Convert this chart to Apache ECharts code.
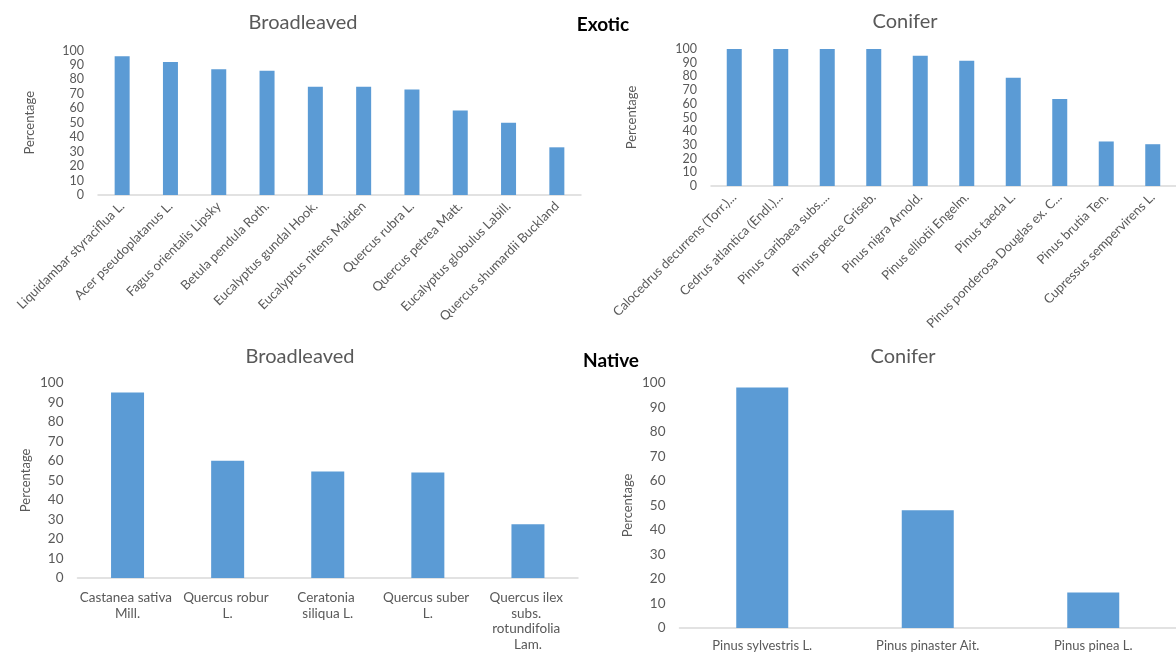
<!DOCTYPE html>
<html>
<head>
<meta charset="utf-8">
<script src="https://cdn.jsdelivr.net/npm/echarts@6/dist/echarts.min.js"></script>
<style>html,body{margin:0;padding:0;background:#fff}#c{width:1176px;height:652px}</style>
</head>
<body>
<div id="c"></div>
<script>
// Exotic - Broadleaved
const exoticBroadCats = ["Liquidambar styraciflua L.", "Acer pseudoplatanus L.", "Fagus orientalis Lipsky", "Betula pendula Roth.", "Eucalyptus gundal Hook.", "Eucalyptus nitens Maiden", "Quercus rubra L.", "Quercus petrea Matt.", "Eucalyptus globulus Labill.", "Quercus shumardii Buckland"];
const exoticBroadVals = [96, 92, 87, 86, 75, 75, 73, 58.5, 50, 33];
// Exotic - Conifer
const exoticConCats = ["Calocedrus decurrens (Torr.)...", "Cedrus atlantica (Endl.)...", "Pinus caribaea subs....", "Pinus peuce Griseb.", "Pinus nigra Arnold.", "Pinus elliotii Engelm.", "Pinus taeda L.", "Pinus ponderosa Douglas ex. C...", "Pinus brutia Ten.", "Cupressus sempervirens L."];
const exoticConVals = [100, 100, 100, 100, 95, 91.5, 79, 63.5, 32.5, 30.5];
// Native - Broadleaved
const nativeBroadCats = ["Castanea sativa Mill.", "Quercus robur L.", "Ceratonia siliqua L.", "Quercus suber L.", "Quercus ilex subs. rotundifolia Lam."];
const nativeBroadVals = [95, 60, 54.5, 54, 27.5];
// Native - Conifer
const nativeConCats = ["Pinus sylvestris L.", "Pinus pinaster Ait.", "Pinus pinea L."];
const nativeConVals = [98, 48, 14.5];
// Axis ticks
const yMin = 0, yMax = 100, yStep = 10;
const yName = "Percentage";

const FONT = "Lato";
const GRAY = "#595959";
const BAR = "#5b9bd5";

const grids = [
  {left: 98, top: 50.5, width: 483, height: 144.5},
  {left: 711, top: 49, width: 472, height: 137},
  {left: 77.5, top: 382.7, width: 500.5, height: 199.6},
  {left: 679.5, top: 382.7, width: 502, height: 246.3}
];
const nameGaps = [62, 73, 45, 45];
const cats = [exoticBroadCats, exoticConCats, nativeBroadCats, nativeConCats];
const vals = [exoticBroadVals, exoticConVals, nativeBroadVals, nativeConVals];
const barWidths = [15, 15, 33, 52];

const xAxes = cats.map((c, i) => ({
  type: 'category', gridIndex: i, data: c,
  axisLine: {lineStyle: {color: '#d9d9d9', width: 1.5}},
  axisTick: {show: false},
  axisLabel: i < 2 ? {
    interval: 0, rotate: 45, color: GRAY, fontFamily: FONT, fontSize: 13, margin: 9
  } : (i === 2 ? {
    interval: 0, color: GRAY, fontFamily: FONT, fontSize: 13.5, margin: 12,
    width: 98, overflow: 'break', lineHeight: 15.5, align: 'center'
  } : {
    interval: 0, color: GRAY, fontFamily: FONT, fontSize: 13, margin: 11
  })
}));
const yAxes = grids.map((g, i) => ({
  type: 'value', gridIndex: i, min: yMin, max: yMax, interval: yStep,
  axisLine: {show: false}, axisTick: {show: false}, splitLine: {show: false},
  axisLabel: {color: GRAY, fontFamily: FONT, fontSize: i < 2 ? 12.5 : 13.5, margin: 14},
  name: yName, nameLocation: 'middle', nameRotate: 90, nameGap: nameGaps[i],
  nameTextStyle: {color: GRAY, fontFamily: FONT, fontSize: 13}
}));
const series = vals.map((v, i) => ({
  type: 'bar', xAxisIndex: i, yAxisIndex: i, data: v,
  barWidth: barWidths[i], itemStyle: {color: BAR}, silent: true
}));

const chart = echarts.init(document.getElementById('c'), null, {renderer: 'canvas'});
chart.setOption({
  animation: false,
  backgroundColor: '#fff',
  title: [
    {text: 'Broadleaved', left: 298, top: 8, textAlign: 'center', textStyle: {color: GRAY, fontFamily: FONT, fontSize: 20, fontWeight: 'normal'}},
    {text: 'Conifer', left: 900, top: 7, textAlign: 'center', textStyle: {color: GRAY, fontFamily: FONT, fontSize: 20, fontWeight: 'normal'}},
    {text: 'Exotic', left: 598, top: 10, textAlign: 'center', textStyle: {color: '#000', fontFamily: FONT, fontSize: 19, fontWeight: 'bold'}},
    {text: 'Broadleaved', left: 295, top: 342, textAlign: 'center', textStyle: {color: GRAY, fontFamily: FONT, fontSize: 20, fontWeight: 'normal'}},
    {text: 'Native', left: 606, top: 346, textAlign: 'center', textStyle: {color: '#000', fontFamily: FONT, fontSize: 19, fontWeight: 'bold'}},
    {text: 'Conifer', left: 898, top: 342, textAlign: 'center', textStyle: {color: GRAY, fontFamily: FONT, fontSize: 20, fontWeight: 'normal'}}
  ],
  grid: grids.map(g => Object.assign({containLabel: false}, g)),
  xAxis: xAxes,
  yAxis: yAxes,
  series: series
});
</script>
</body>
</html>
